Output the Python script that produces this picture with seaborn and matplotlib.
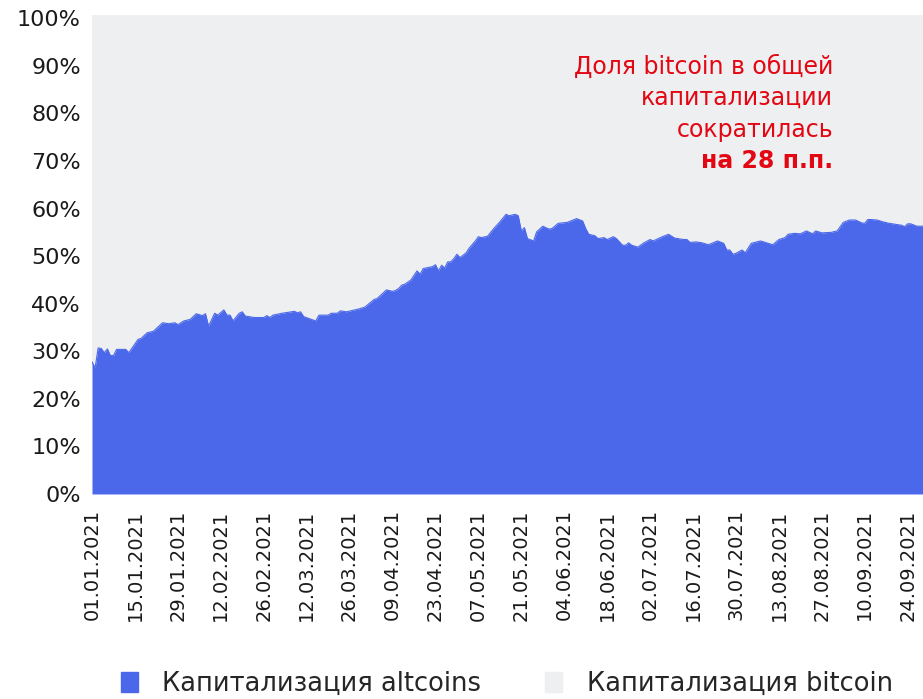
import pandas as pd
import seaborn as sns
import matplotlib.pyplot as plt
import matplotlib.dates as mdates
from matplotlib.patches import Patch
from matplotlib.ticker import PercentFormatter

# дни от 01.01.2021 и доля altcoins в общей капитализации, %
day = [0, 1, 2, 3, 4, 5, 6, 7, 8, 11, 12, 15, 16, 18, 20, 23, 25, 27, 28, 30,
       32, 34, 36, 37, 38, 40, 41, 43, 44, 45, 46, 48, 49, 50, 53, 56, 57, 58, 59, 62,
       66, 67, 68, 69, 72, 73, 74, 77, 78, 80, 81, 83, 85, 87, 89, 92, 93, 96, 98, 99,
       100, 101, 102, 104, 106, 107, 108, 111, 112, 113, 114, 115, 116, 117, 118, 119, 120, 122, 123, 125,
       126, 127, 129, 131, 133, 135, 136, 138, 139, 140, 141, 142, 144, 145, 147, 149, 150, 152, 155, 158,
       160, 161, 162, 164, 165, 167, 168, 170, 171, 173, 174, 175, 176, 178, 180, 182, 183, 186, 188, 190,
       193, 194, 195, 197, 199, 201, 204, 206, 207, 208, 209, 210, 212, 213, 214, 215, 218, 220, 222, 224,
       226, 227, 229, 231, 233, 235, 236, 238, 241, 243, 244, 245, 247, 249, 251, 252, 253, 254, 256, 258,
       260, 262, 264, 265, 266, 267, 269, 271]
altcoins = [27.8, 26.5, 30.7, 30.6, 29.7, 30.5, 29.1, 29.1, 30.4, 30.4, 29.7, 32.5, 32.7, 33.9, 34.2, 36.0, 35.8, 36.0, 35.6, 36.4,
            36.7, 37.9, 37.5, 37.9, 35.3, 38.0, 37.6, 38.7, 37.6, 37.6, 36.4, 38.0, 38.3, 37.4, 37.1, 37.1, 37.5, 37.1, 37.6, 38.0,
            38.4, 38.1, 38.3, 37.3, 36.6, 36.4, 37.6, 37.6, 38.0, 38.0, 38.5, 38.3, 38.6, 38.9, 39.3, 40.9, 41.1, 42.9, 42.6, 42.8,
            43.2, 43.9, 44.1, 45.0, 46.9, 46.2, 47.4, 47.8, 48.2, 46.9, 48.1, 47.5, 48.8, 48.8, 49.5, 50.4, 49.7, 50.7, 51.7, 53.2,
            54.1, 53.9, 54.2, 55.8, 57.2, 58.8, 58.5, 58.8, 58.5, 55.3, 56.0, 53.7, 53.2, 55.1, 56.3, 55.7, 55.8, 56.9, 57.1, 57.9,
            57.4, 55.8, 54.6, 54.3, 53.7, 53.9, 53.5, 54.1, 53.7, 52.3, 52.3, 52.8, 52.3, 51.9, 52.8, 53.5, 53.2, 54.1, 54.6, 53.8,
            53.5, 53.5, 52.9, 53.0, 52.8, 52.4, 53.2, 52.7, 51.3, 51.3, 50.4, 50.6, 51.3, 50.7, 51.7, 52.7, 53.2, 52.8, 52.4, 53.5,
            53.9, 54.6, 54.8, 54.7, 55.3, 54.7, 55.3, 54.9, 55.0, 55.3, 56.2, 57.1, 57.6, 57.6, 57.0, 56.9, 57.7, 57.7, 57.6, 57.2,
            56.9, 56.7, 56.5, 56.2, 56.8, 56.8, 56.3, 56.3]

legend_labels = ['Капитализация altcoins', 'Капитализация bitcoin']
note_lines = ['Доля bitcoin в общей', 'капитализации', 'сократилась']
note_bold = 'на 28 п.п.'

blue = '#4B68EA'
grey = '#EEEFF1'
red = '#E30613'

sns.set_theme(style='white')
plt.rcParams['font.family'] = ['DejaVu Sans']

start = pd.Timestamp('2021-01-01')
dates = start + pd.to_timedelta(day, unit='D')

fig = plt.figure(figsize=(9.23, 6.99), dpi=100)
ax = fig.add_axes([0.0997, 0.2933, 0.9003, 0.6852])
ax.set_facecolor(grey)

sns.lineplot(x=dates, y=altcoins, color=blue, lw=0.8, ax=ax)
ax.fill_between(dates, 0, altcoins, color=blue, lw=0)

ax.set_xlim(start, start + pd.Timedelta(days=271))
ax.set_ylim(0, 100.7)
ax.set_yticks(range(0, 101, 10))
ax.yaxis.set_major_formatter(PercentFormatter(decimals=0))
ax.set_xticks(pd.date_range(start, periods=20, freq='14D'))
ax.xaxis.set_major_formatter(mdates.DateFormatter('%d.%m.%Y'))
ax.tick_params(axis='y', length=0, pad=8, labelsize=16, colors='#1a1a1a')
ax.tick_params(axis='x', length=0, pad=11, labelsize=14, colors='#1a1a1a', rotation=90)
for s in ax.spines.values():
    s.set_visible(False)
ax.set_xlabel('')
ax.set_ylabel('')

y0 = 0.905
for i, line in enumerate(note_lines):
    fig.text(0.9025, y0 - i * 0.0452, line, color=red, fontsize=17, ha='right', va='center')
fig.text(0.9025, y0 - 3 * 0.0452, note_bold, color=red, fontsize=17, fontweight='bold',
         ha='right', va='center')

handles = [Patch(color=blue), Patch(color=grey)]
fig.legend(handles, legend_labels, loc='center', bbox_to_anchor=(0.549, 0.022), ncol=2,
           frameon=False, fontsize=18.5, handlelength=0.66, handleheight=0.8, handletextpad=0.95,
           columnspacing=2.5, borderpad=0)

fig.savefig('out.png', dpi=100)
